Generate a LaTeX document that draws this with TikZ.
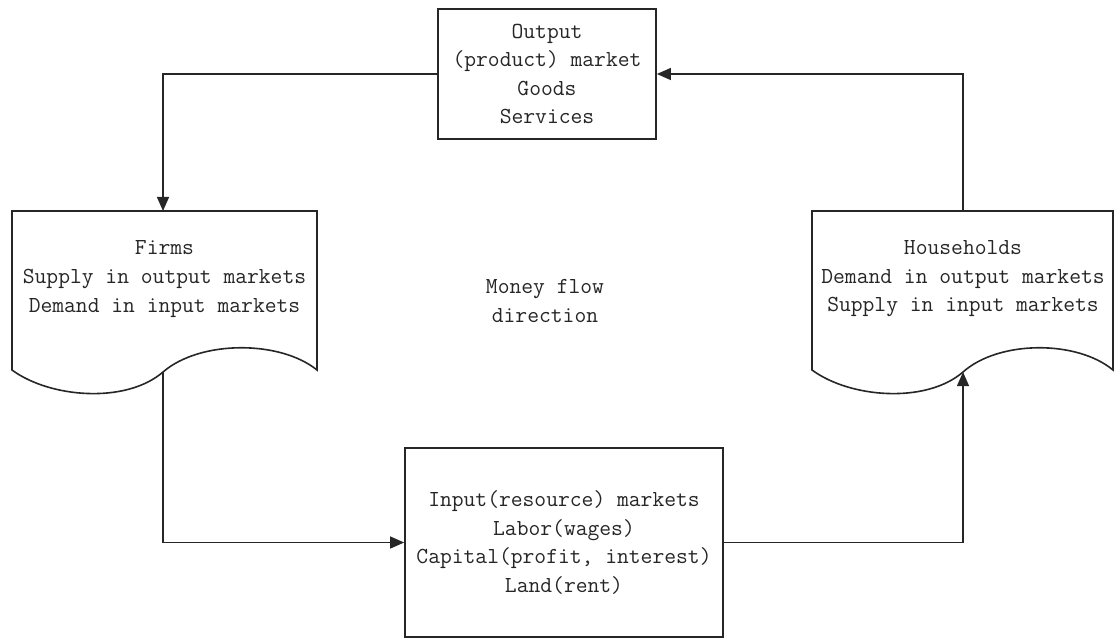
\documentclass[tikz,border=0pt]{standalone}
\usepackage{fontspec}
\usetikzlibrary{arrows.meta}

\tikzset{
    mkt/.style={draw=black!85, line width=0.04cm, align=center, text=black!85},
    txt/.style={align=center, text=black!85},
    doc/.style={draw=black!85, line width=0.04cm},
    flow/.style={draw=black!85, line width=0.04cm, -{Triangle[length=10pt,width=8.5pt]}}
}

\begin{document}
\begin{tikzpicture}[x=0.025cm,y=-0.025cm,font=\ttfamily\fontsize{16.3}{20.3}\selectfont]
                \useasboundingbox (0,0) rectangle (1115,639);
                % markets
                \node[mkt, minimum width=5.45cm, minimum height=3.25cm] (out) at (547,74) {Output\\(product) market\\Goods\\Services};
                \node[mkt, minimum width=7.95cm, minimum height=4.725cm] (inp) at (564,542.5) {Input(resource) markets\\Labor(wages)\\Capital(profit, interest)\\Land(rent)};
                % firms and households
                \draw[doc] (12,211) -- (317,211) -- (317,370) .. controls (280,340) and (200,340) .. (163,372) .. controls (126,404) and (50,398) .. (12,370) -- cycle;
                \draw[doc] (812,211) -- (1113,211) -- (1113,370) .. controls (1077,340) and (999,340) .. (963,372) .. controls (926,404) and (850,398) .. (812,370) -- cycle;
                \node[txt] (firms) at (164.5,279) {Firms\\Supply in output markets\\Demand in input markets};
                \node[txt] (hh) at (963,279) {Households\\Demand in output markets\\Supply in input markets};
                \node[txt] (money) at (545,301) {Money flow\\direction};
                \coordinate (firmsin) at (163,211);
                \coordinate (firmsout) at (163,372);
                \coordinate (hhin) at (963,372);
                \coordinate (hhout) at (963,211);
                % flows
                \draw[flow] (out.west) -| (firmsin);
                \draw[flow] (firmsout) |- (inp.west);
                \draw[flow] (inp.east) -| (hhin);
                \draw[flow] (hhout) |- (out.east);
            \end{tikzpicture}
\end{document}
